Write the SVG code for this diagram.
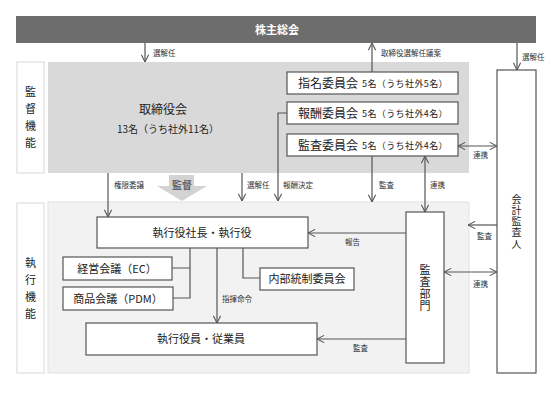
<svg xmlns="http://www.w3.org/2000/svg" width="555" height="394" viewBox="0 0 555 394">
<defs>
<style>
text{font-family:"Noto Sans CJK JP","Noto Sans",sans-serif;fill:#222}
.box{fill:#fff;stroke:#555;stroke-width:1.2}
.side{fill:#fff;stroke:#d8d8d8;stroke-width:1}
.ln{fill:none;stroke:#555;stroke-width:1.2}
.sm{font-size:7.5px;fill:#333}
.nm{font-size:12px}
.ct{font-size:9px;letter-spacing:0.4px}
.md{font-size:11px}
.c{text-anchor:middle}
.vt{writing-mode:vertical-rl;text-anchor:middle}
</style>
<marker id="ah" viewBox="0 0 10 10" refX="10" refY="5" markerWidth="8" markerHeight="8" markerUnits="userSpaceOnUse" orient="auto-start-reverse">
<path d="M1,0.5 L10,5 L1,9.5" fill="none" stroke="#555" stroke-width="1.3"/>
</marker>
</defs>
<rect width="555" height="394" fill="#fff"/>
<g id="shareholders">
<rect x="16" y="16" width="520" height="27" fill="#6d6d6d"/>
<text x="277" y="33.5" class="c" style="fill:#fff;font-size:11px;font-weight:bold">株主総会</text>
</g>
<g id="label-supervision">
<rect class="side" x="17" y="62" width="27" height="111"/>
<text class="md c" x="30.5"><tspan x="30.5" y="96">監</tspan><tspan x="30.5" y="113">督</tspan><tspan x="30.5" y="130">機</tspan><tspan x="30.5" y="147">能</tspan></text>
</g>
<g id="board">
<rect x="48" y="62" width="421" height="111" fill="#d9d9d9"/>
<text class="nm c" x="163" y="114">取締役会</text>
<text class="c" style="font-size:10px" x="168" y="133">13名（うち社外11名）</text>
</g>
<g id="nomination">
<rect class="box" x="287" y="72" width="171" height="22"/>
<text class="nm" x="298" y="87.5">指名委員会</text>
<text class="ct" x="362" y="87">5名（うち社外5名）</text>
</g>
<g id="compensation">
<rect class="box" x="287" y="102" width="171" height="22"/>
<text class="nm" x="298" y="117.5">報酬委員会</text>
<text class="ct" x="362" y="117">5名（うち社外4名）</text>
</g>
<g id="audit-committee">
<rect class="box" x="287" y="134" width="171" height="22"/>
<text class="nm" x="298" y="149.5">監査委員会</text>
<text class="ct" x="362" y="149">5名（うち社外4名）</text>
</g>
<g id="accounting-auditor">
<rect class="box" x="497" y="70" width="39" height="303"/>
<text class="vt" style="font-size:10px;letter-spacing:1.2px" x="516.5" y="222">会計監査人</text>
</g>
<g id="supervision-arrow">
<path d="M169,175 H194 V186 H207 L182,201 L157,186 H169 Z" fill="#d3d3d3"/>
<text x="182" y="189" class="c" style="font-size:10px;font-weight:bold;fill:#666">監督</text>
</g>
<g id="label-execution">
<rect class="side" x="17" y="203" width="27" height="170"/>
<text class="md c" x="30.5"><tspan x="30.5" y="267">執</tspan><tspan x="30.5" y="284">行</tspan><tspan x="30.5" y="301">機</tspan><tspan x="30.5" y="318">能</tspan></text>
</g>
<g id="execution-area">
<rect x="48" y="202" width="421" height="171" fill="#f2f2f2" stroke="#e2e2e2" stroke-width="1"/>
</g>
<g id="president">
<rect class="box" x="97" y="217" width="211" height="31"/>
<text class="md c" x="202" y="236.5">執行役社長・執行役</text>
</g>
<g id="ec">
<rect class="box" x="63" y="257" width="109" height="23"/>
<text class="md c" x="117" y="272.5">経営会議（EC）</text>
</g>
<g id="pdm">
<rect class="box" x="63" y="287" width="110" height="23"/>
<text class="md c" x="118" y="302.5">商品会議（PDM）</text>
</g>
<g id="internal-control">
<rect class="box" x="260" y="268" width="94" height="22"/>
<text class="md c" x="307" y="283">内部統制委員会</text>
</g>
<g id="employees">
<rect class="box" x="86" y="323" width="231" height="32"/>
<text class="md c" x="201" y="343">執行役員・従業員</text>
</g>
<g id="audit-dept">
<rect class="box" x="406" y="212" width="38" height="151"/>
<text class="vt" style="font-size:11px;letter-spacing:1px" x="425" y="288">監査部門</text>
</g>
<g id="connectors">
<line class="ln" x1="145" y1="43" x2="145" y2="62" marker-end="url(#ah)"/>
<text class="sm" x="153" y="56">選解任</text>
<line class="ln" x1="372" y1="72" x2="372" y2="43" marker-end="url(#ah)"/>
<text class="sm" x="381" y="56">取締役選解任議案</text>
<line class="ln" x1="517" y1="43" x2="517" y2="70" marker-end="url(#ah)"/>
<text class="sm" x="522" y="60">選解任</text>
<line class="ln" x1="458" y1="146" x2="497" y2="146" marker-start="url(#ah)" marker-end="url(#ah)"/>
<text class="sm" x="473" y="158">連携</text>
<path class="ln" d="M287,113 H278 V201" marker-end="url(#ah)"/>
<text class="sm" x="283" y="188">報酬決定</text>
<line class="ln" x1="372" y1="156" x2="372" y2="202" marker-end="url(#ah)"/>
<text class="sm" x="379" y="188">監査</text>
<line class="ln" x1="425" y1="212" x2="425" y2="156" marker-start="url(#ah)" marker-end="url(#ah)"/>
<text class="sm" x="430" y="188">連携</text>
<line class="ln" x1="108" y1="173" x2="108" y2="217" marker-end="url(#ah)"/>
<text class="sm" x="114" y="188">権限委譲</text>
<line class="ln" x1="242" y1="173" x2="242" y2="201" marker-end="url(#ah)"/>
<text class="sm" x="247" y="188">選解任</text>
<line class="ln" x1="406" y1="233" x2="308" y2="233" marker-end="url(#ah)"/>
<text class="sm" x="345" y="245">報告</text>
<line class="ln" x1="497" y1="225" x2="468" y2="225" marker-end="url(#ah)"/>
<text class="sm" x="477" y="239">監査</text>
<line class="ln" x1="444" y1="272" x2="497" y2="272" marker-start="url(#ah)" marker-end="url(#ah)"/>
<text class="sm" x="473" y="287">連携</text>
<line class="ln" x1="406" y1="339" x2="317" y2="339" marker-end="url(#ah)"/>
<text class="sm" x="353" y="351">監査</text>
<path class="ln" d="M243,248 V278 H260"/>
<path class="ln" d="M190,248 V298 H173 M172,268 H190"/>
<line class="ln" x1="217" y1="248" x2="217" y2="323" marker-end="url(#ah)"/>
<text class="sm" x="222" y="302">指揮命令</text>
</g>
</svg>
